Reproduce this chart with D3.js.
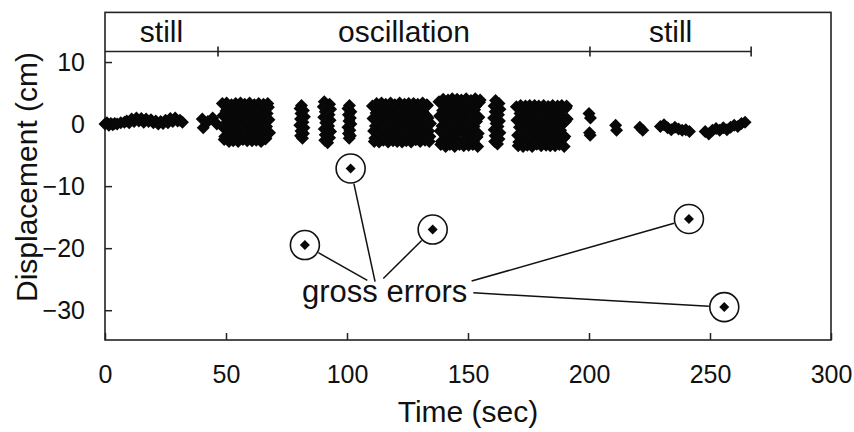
<!DOCTYPE html>
<html lang="en">
<head>
  <meta charset="utf-8">
  <title>Displacement vs time</title>
  <script src="https://cdn.jsdelivr.net/npm/d3@7/dist/d3.min.js"></script>
  <style>
    body { margin: 0; background: #fff; }
    text { font-family: "Liberation Sans", Arial, sans-serif; fill: #111; }
  </style>
</head>
<body>
<script>
// values (time in s, displacement in cm)

// sparse parts, [time, displacement]
var still1 = [[0,0.0],[0.8,0.2],[1.6,-0.2],[2.4,0.1],[3.2,-0.1],[4,0.1],[5,0.0],[6.5,0.2],
  [8,0.3],[9,0.5],[10,0.2],[11,0.8],[12,0.4],[13,1.0],[14,0.5],[15,0.9],[16,0.3],[17,0.8],
  [18,0.4],[19,0.7],[20,0.2],[21,0.5],[22,0.0],[23,0.4],[24,0.1],[25,0.6],[26,0.2],[27,0.9],
  [28,0.4],[29,1.0],[30,0.5],[31,0.6],[32,0.3]];
var preOsc = [[40.2,0.8],[40.6,-0.6],[42.5,0.4],[44.5,1.0],[46.2,0.0]];
var col81 = [[81.2,3.0],[80.6,2.5],[82.0,2.2],[81.0,1.7],[82.4,1.2],[80.8,0.8],[81.8,0.3],
  [80.5,-0.2],[82.2,-0.6],[81.0,-1.1],[82.0,-1.5],[80.8,-1.9],[81.6,-2.3]];
var col92 = [[90.6,3.6],[92.8,3.2],[90.2,2.8],[93.2,2.4],[91.0,2.0],[92.6,1.5],[90.4,1.1],
  [93.0,0.6],[91.2,0.2],[92.4,-0.3],[90.6,-0.8],[93.2,-1.2],[91.0,-1.7],[92.8,-2.2],[90.8,-2.6],[92.0,-3.0]];
var col101 = [[101.0,3.0],[100.4,2.5],[101.6,2.0],[100.6,1.5],[101.4,1.0],[100.8,0.5],
  [101.6,0.0],[100.4,-0.5],[101.2,-1.0],[100.6,-1.5],[101.4,-1.9],[100.9,-2.3]];
var col162 = [[161.4,3.8],[162.8,3.3],[160.8,2.9],[163.2,2.4],[161.2,2.0],[162.6,1.5],[160.6,1.0],
  [163.0,0.5],[161.6,0.1],[162.4,-0.4],[160.8,-0.9],[163.2,-1.4],[161.2,-1.9],[162.8,-2.4],[161.0,-2.8],[162.2,-3.2]];
var col200 = [[200.0,1.7],[200.6,1.0],[200.2,-1.4],[200.5,-1.8]];
var still2 = [[211.0,-0.2],[211.4,-1.0],[221.0,-0.5],[222.2,-1.0],[229.5,-0.4],[231,-0.1],
  [232.5,-0.6],[234,-0.9],[235.5,-0.5],[237,-0.8],[238.5,-1.0],[240,-0.9],[241.5,-1.2],
  [248,-1.2],[249.5,-1.6],[251,-1.0],[252.5,-0.7],[254,-1.0],[255.5,-0.6],[257,-0.9],
  [258.5,-0.5],[260,-0.2],[261.5,-0.4],[263,0.1],[264.5,0.3]];

// dense oscillation runs, sampled every sampleStep seconds from their start time
var sampleStep = 0.25;
var runA_t0 = 48.5;
var runA = [3.3,1.4,-0.6,-2.5,-2.0,0.0,2.1,3.4,2.4,0.4,
  -1.7,-2.8,-1.3,0.8,2.8,3.1,1.2,-1.0,-2.7,-2.2,
  -0.2,1.9,3.3,2.6,0.6,-1.5,-2.8,-1.6,0.5,2.5,
  3.4,1.7,-0.3,-2.3,-2.5,-0.6,1.5,3.2,2.9,0.9,
  -1.2,-2.7,-1.9,0.2,2.3,3.4,2.0,0.0,-2.0,-2.7,
  -0.9,1.2,3.0,3.1,1.1,-0.9,-2.6,-2.1,-0.1,2.0,
  3.3,2.3,0.3,-1.8,-2.8,-1.1,1.0,2.9,3.2,1.4,
  -0.7,-2.4,-2.3,-0.4,1.7,3.3,2.7,0.7,-1.4];
var runB_t0 = 110.5;
var runB = [2.9,0.9,-1.1,-2.8,-2.3,-0.3,1.8,3.3,2.6,0.6,
  -1.5,-2.9,-1.6,0.5,2.6,3.4,1.5,-0.7,-2.6,-2.4,
  -0.5,1.6,3.2,2.9,0.8,-1.3,-2.9,-1.9,0.2,2.3,
  3.4,2.0,-0.1,-2.1,-2.7,-0.8,1.3,3.1,3.0,1.1,
  -1.0,-2.8,-2.1,0.0,2.1,3.4,2.2,0.2,-1.8,-2.9,
  -1.2,0.9,2.9,3.2,1.3,-0.8,-2.7,-2.3,-0.3,1.8,
  3.3,2.5,0.5,-1.6,-2.9,-1.4,0.7,2.7,3.3,1.6,
  -0.5,-2.5,-2.5,-0.6,1.5,3.2,2.8,0.8,-1.3,-2.8,
  -1.8,0.3,2.4,3.4,1.9,-0.2,-2.2,-2.6,-0.7,1.4,
  3.1,3.0,1.0,-1.1,-2.8,-2.0,0.1];
var runC_t0 = 138;
var runC = [3.6,1.3,-1.1,-3.3,-2.8,-0.3,2.2,4.0,3.0,0.6,
  -1.9,-3.6,-1.9,0.7,3.2,3.9,1.5,-1.0,-3.3,-3.0,
  -0.6,2.0,4.1,3.3,0.9,-1.7,-3.6,-2.2,0.4,3.0,
  4.0,2.1,-0.4,-2.9,-3.3,-0.9,1.7,3.9,3.6,1.2,
  -1.4,-3.5,-2.5,0.1,2.7,4.1,2.5,0.0,-2.5,-3.4,
  -1.2,1.4,3.7,3.8,1.5,-1.1,-3.3,-2.8,-0.4,2.3,
  4.1,2.9,0.4,-2.1,-3.6,-1.5,1.1,3.5,3.9];
var runE_t0 = 170;
var runE = [2.8,0.6,-1.8,-3.5,-2.9,-0.5,1.7,3.0,2.2,-0.1,
  -2.4,-3.6,-1.8,0.6,2.7,2.9,0.8,-1.6,-3.4,-3.0,
  -0.8,1.4,3.0,2.5,0.2,-2.1,-3.6,-2.2,0.2,2.5,
  3.0,1.2,-1.1,-3.2,-3.2,-1.1,1.1,2.9,2.7,0.5,
  -1.9,-3.5,-2.5,-0.2,2.2,3.0,1.6,-0.8,-3.0,-3.4,
  -1.4,0.9,2.8,2.8,0.7,-1.6,-3.5,-2.7,-0.4,2.0,
  3.0,2.0,-0.4,-2.7,-3.5,-1.6,0.7,2.6,2.9,1.0,
  -1.3,-3.3,-3.0,-1.0,1.3,3.0,2.4,0.1,-2.3,-3.6,
  -2.0,0.4,2.6,2.9,0.8];

// gross errors
var errTime = [82.6, 101.5, 135.4, 241.3, 255.9];
var errDisp = [-19.5, -7.15, -17.0, -15.3, -29.5];
// where each leader line meets the label
var leadTime = [108.4, 111.6, 115.0, 151.5, 152.2];
var leadDisp = [-25.2, -25.4, -24.9, -25.3, -27.2];

// phases along the top
var phaseBounds = [0, 46.7, 200.4, 267];
var phaseNames = ["still", "oscillation", "still"];

var xTicks = [0, 50, 100, 150, 200, 250, 300];
var yTicks = [10, 0, -10, -20, -30];

// ---- build point list ----
var points = [].concat(still1, preOsc, col81, col92, col101, col162, col200, still2);
[[runA_t0, runA], [runB_t0, runB], [runC_t0, runC], [runE_t0, runE]].forEach(function(r) {
  r[1].forEach(function(v, i) { points.push([r[0] + i * sampleStep, v]); });
});

var width = 854, height = 432;
var x = d3.scaleLinear().domain([0, 300]).range([105, 831]);
var y = d3.scaleLinear().domain([-34.8, 18]).range([340, 12.4]);

var svg = d3.select("body").append("svg")
  .attr("width", width).attr("height", height);

function diamond(h) { return "M0," + (-h) + "L" + h + ",0L0," + h + "L" + (-h) + ",0Z"; }

// axes
var yAxis = svg.append("g")
  .attr("transform", "translate(" + x(0) + ",0)")
  .call(d3.axisLeft(y).tickValues(yTicks).tickSize(-7).tickPadding(20).tickFormat(d3.format("d")));
var xAxis = svg.append("g")
  .attr("transform", "translate(0," + y(-34.8) + ")")
  .call(d3.axisBottom(x).tickValues(xTicks).tickSize(-7).tickPadding(25));
[xAxis, yAxis].forEach(function(a) {
  a.select(".domain").remove();
  a.selectAll("line").attr("stroke", "#222").attr("stroke-width", 1.5);
  a.selectAll("text").style("font-size", "25px").attr("fill", "#111");
});

// frame
svg.append("rect")
  .attr("x", x(0)).attr("y", y(18))
  .attr("width", x(300) - x(0)).attr("height", y(-34.8) - y(18))
  .attr("fill", "none").attr("stroke", "#222").attr("stroke-width", 1.6);

// data
svg.append("g").selectAll("path").data(points).enter().append("path")
  .attr("d", diamond(6.5))
  .attr("transform", function(d) { return "translate(" + x(d[0]) + "," + y(d[1]) + ")"; })
  .attr("fill", "#080808");

// phase bracket
var bracketV = 11.7;
var br = svg.append("g").attr("stroke", "#222").attr("stroke-width", 1.6);
br.append("line")
  .attr("x1", x(phaseBounds[0])).attr("x2", x(phaseBounds[phaseBounds.length - 1]))
  .attr("y1", y(bracketV)).attr("y2", y(bracketV));
br.selectAll(".tk").data(phaseBounds.slice(1)).enter().append("line")
  .attr("x1", function(d) { return x(d); }).attr("x2", function(d) { return x(d); })
  .attr("y1", y(bracketV) - 5).attr("y2", y(bracketV) + 5);
svg.selectAll(".phase").data(phaseNames).enter().append("text")
  .attr("x", function(d, i) { return x((phaseBounds[i] + phaseBounds[i + 1]) / 2); })
  .attr("y", y(bracketV) - 9)
  .attr("text-anchor", "middle")
  .style("font-size", "30px")
  .text(function(d) { return d; });

// gross errors
var r = 14.5;
var errs = errTime.map(function(t, i) {
  return { cx: x(t), cy: y(errDisp[i]), lx: x(leadTime[i]), ly: y(leadDisp[i]) };
});
svg.append("g").selectAll("line").data(errs).enter().append("line")
  .attr("x1", function(d) { var a = Math.atan2(d.ly - d.cy, d.lx - d.cx); return d.cx + (r + 1) * Math.cos(a); })
  .attr("y1", function(d) { var a = Math.atan2(d.ly - d.cy, d.lx - d.cx); return d.cy + (r + 1) * Math.sin(a); })
  .attr("x2", function(d) { return d.lx; })
  .attr("y2", function(d) { return d.ly; })
  .attr("stroke", "#111").attr("stroke-width", 1.5);
svg.append("g").selectAll("circle").data(errs).enter().append("circle")
  .attr("cx", function(d) { return d.cx; }).attr("cy", function(d) { return d.cy; })
  .attr("r", r).attr("fill", "none").attr("stroke", "#111").attr("stroke-width", 1.6);
svg.append("g").selectAll("path").data(errs).enter().append("path")
  .attr("d", diamond(5))
  .attr("transform", function(d) { return "translate(" + d.cx + "," + d.cy + ")"; })
  .attr("fill", "#080808");

svg.append("text")
  .attr("x", x(81.4)).attr("y", y(-28.7))
  .style("font-size", "31px")
  .text("gross errors");

// axis titles
svg.append("text")
  .attr("x", (x(0) + x(300)) / 2).attr("y", 422)
  .attr("text-anchor", "middle")
  .style("font-size", "30px")
  .text("Time (sec)");
svg.append("text")
  .attr("transform", "translate(37," + 177 + ") rotate(-90)")
  .attr("text-anchor", "middle")
  .style("font-size", "30px")
  .text("Displacement (cm)");
</script>
</body>
</html>
